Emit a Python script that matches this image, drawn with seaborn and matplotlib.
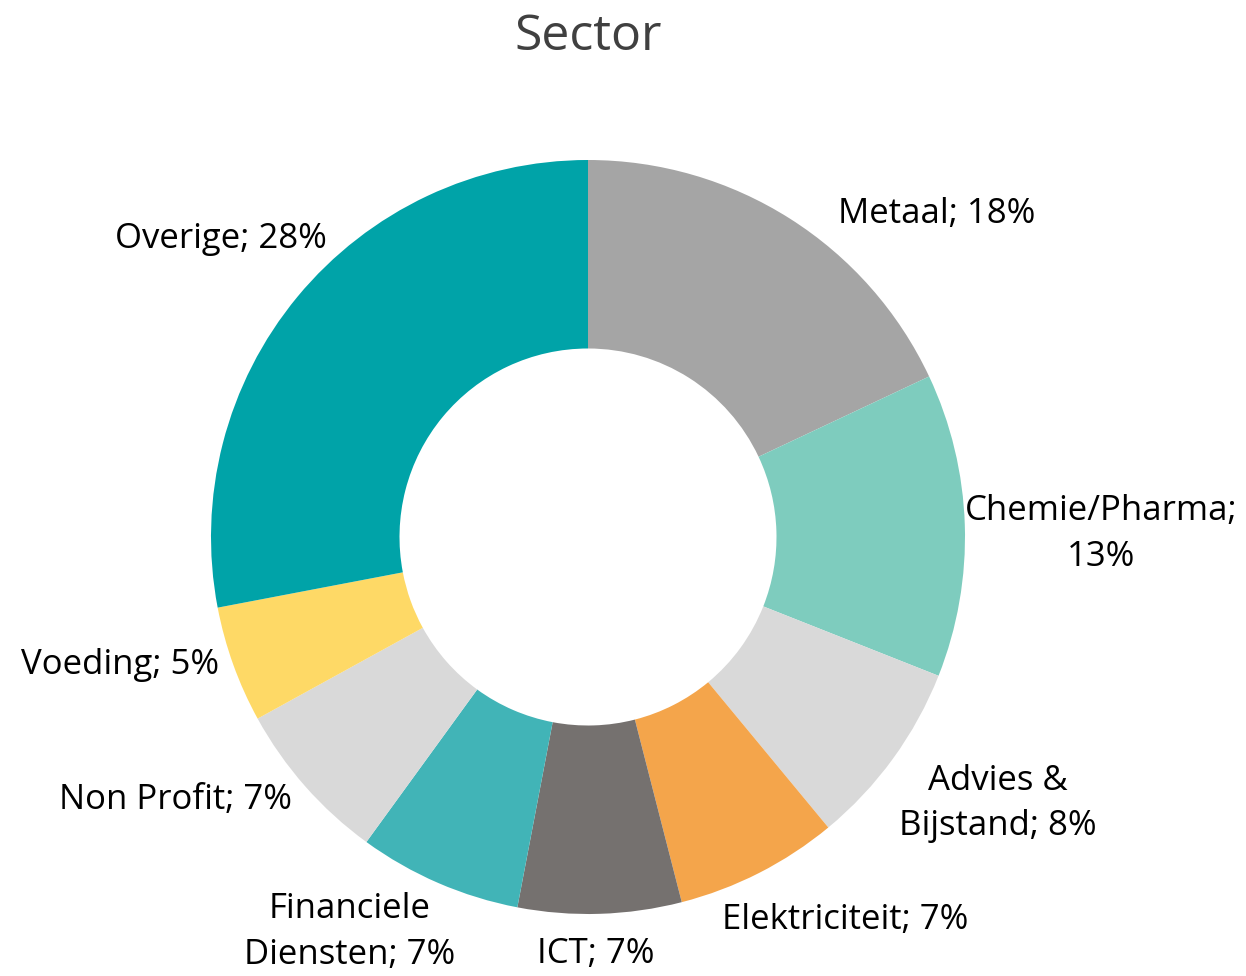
import matplotlib
matplotlib.use("Agg")
import numpy as np
import matplotlib.pyplot as plt
import seaborn as sns

# Sector shares (percent), clockwise from 12 o'clock
sectors = ["Metaal", "Chemie/Pharma", "Advies & Bijstand", "Elektriciteit", "ICT",
           "Financiele Diensten", "Non Profit", "Voeding", "Overige"]
shares = [18, 13, 8, 7, 7, 7, 7, 5, 28]
label_texts = ["Metaal; 18%", "Chemie/Pharma;\n13%", "Advies &\nBijstand; 8%",
               "Elektriciteit; 7%", "ICT; 7%", "Financiele\nDiensten; 7%",
               "Non Profit; 7%", "Voeding; 5%", "Overige; 28%"]
colors = ["#A5A5A5", "#7ECCBE", "#D9D9D9", "#F4A54B", "#75716F",
          "#41B4B7", "#D9D9D9", "#FED966", "#00A3A8"]

# where each data label sits relative to the outer edge of its wedge (pixels)
label_offsets = [(147, 5), (136, -9), (105, -45), (86, -47), (-4, -40),
                 (-89, -49), (-130, -14), (-113, 0), (-77, 58)]

sns.set_theme(style="white")
plt.rcParams["font.family"] = ["Open Sans", "DejaVu Sans"]

fig = plt.figure(figsize=(12.46, 9.76), dpi=100)
ax = fig.add_axes([0, 0, 1, 1])

# pie centre at (588, 537) px, outer radius 377 px
R_px = 377.0
cx, cy = 588.0, 537.0
W, H = 1246.0, 976.0

wedges, _ = ax.pie(shares, colors=colors, startangle=90, counterclock=False,
                   radius=1.0, wedgeprops=dict(width=0.5, linewidth=0),
                   frame=True)
ax.set_xlim(-cx / R_px, (W - cx) / R_px)
ax.set_ylim(-(H - cy) / R_px, cy / R_px)
ax.set_aspect("auto")
ax.axis("off")

# data labels outside the ring
for w, txt, off in zip(wedges, label_texts, label_offsets):
    mid = np.deg2rad((w.theta1 + w.theta2) / 2)
    x, y = np.cos(mid), np.sin(mid)
    ax.annotate(txt, xy=(x, y), xytext=off, textcoords="offset pixels",
                ha="center", va="center", multialignment="center",
                fontsize=25, color="black", linespacing=1.45)

fig.text(cx / W, 1 - 37 / H, "Sector", ha="center", va="center",
         fontsize=36, color="#404040")

fig.savefig("out.png", dpi=100, facecolor="white")
